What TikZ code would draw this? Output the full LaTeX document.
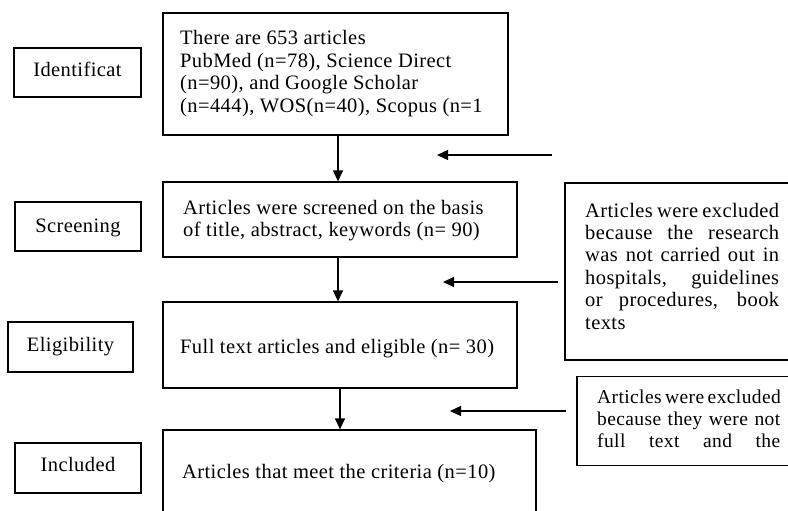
\documentclass[tikz,border=0pt]{standalone}
\usepackage{fontspec}
\setmainfont{Liberation Serif}[LetterSpace=2]
\usetikzlibrary{arrows.meta}
\begin{document}
\begin{tikzpicture}[x=1pt,y=-1pt,
  box/.style={draw=black, line width=1.3pt, rectangle, inner sep=0pt},
  arr/.style={line width=1.3pt, -{Triangle[length=11pt,width=10pt]}},
  txt/.style={inner sep=0pt, anchor=base west, font=\fontsize{20.5}{22.5}\selectfont},
  lab/.style={inner sep=0pt, anchor=base, font=\fontsize{20.5}{22.5}\selectfont},
  exa/.style={inner sep=0pt, anchor=base west, font=\fontsize{20.5}{22.4}\selectfont},
  exb/.style={inner sep=0pt, anchor=base west, font=\fontsize{19.5}{22}\selectfont},
  ]
\useasboundingbox (0,0) rectangle (788,511);
\clip (0,0) rectangle (788,511);

% stage label boxes
\node[box, minimum width=127pt, minimum height=49pt] (idb)  at (77.5,72.5) {};
\node[box, minimum width=126pt, minimum height=49pt] (scrb) at (78,226.5) {};
\node[box, minimum width=125pt, minimum height=50pt] (elib) at (70.5,347) {};
\node[box, minimum width=126pt, minimum height=50pt] (incb) at (78,468) {};
\node[lab] (idt)  at (77.5,76.5) {Identificat};
\node[lab] (scrt) at (78,232) {Screening};
\node[lab] (elit) at (70.5,351) {Eligibility};
\node[lab] (inct) at (78,471.5) {Included};

% main column boxes
\node[box, minimum width=345pt, minimum height=122pt] (top) at (335.5,74) {};
\node[box, minimum width=354pt, minimum height=75pt]  (scr) at (340,219.5) {};
\node[box, minimum width=354pt, minimum height=86pt]  (eli) at (340,345) {};
\node[box, minimum width=373pt, minimum height=110pt] (inc) at (349.5,485) {};

\node[txt] (topt) at (180,45) {\parbox[t]{320pt}{\raggedright There are 653 articles\\PubMed (n=78), Science Direct\\(n=90), and Google Scholar\\(n=444), WOS(n=40), Scopus (n=1}};
\node[txt] (scrtx) at (183,214) {\parbox[t]{330pt}{\raggedright Articles were screened on the basis\\of title, abstract, keywords (n= 90)}};
\node[txt] (elitx) at (180,353) {Full text articles and eligible (n= 30)};
\node[txt] (inctx) at (182,478) {Articles that meet the criteria (n=10)};

% exclusion boxes
\node[box, minimum width=245pt, minimum height=177pt] (ex1) at (687.5,271.5) {};
\node[box, minimum width=233pt, minimum height=89pt]  (ex2) at (693.5,421) {};
\node[exa] (ex1t) at (585,217) {\parbox[t]{194pt}{%
\makebox[194pt][s]{Articles were excluded}\\
\makebox[194pt][s]{because the research}\\
\makebox[194pt][s]{was not carried out in}\\
\makebox[194pt][s]{hospitals, guidelines}\\
\makebox[194pt][s]{or procedures, book}\\
texts}};
\node[exb] (ex2t) at (597,403) {\parbox[t]{183pt}{%
\makebox[183pt][s]{Articles were excluded}\\
\makebox[183pt][s]{because they were not}\\
\makebox[183pt][s]{full text and the}}};

% connectors
\coordinate (ax1) at (338,0);
\coordinate (ax2) at (340,0);
\draw[arr] (top.south -| ax1) -- (scr.north -| ax1);
\draw[arr] (scr.south -| ax1) -- (eli.north -| ax1);
\draw[arr] (eli.south -| ax2) -- (inc.north -| ax2);

\coordinate (h1s) at (552,155);
\coordinate (h1e) at (437,155);
\coordinate (h2s) at (558,282);
\coordinate (h2e) at (443,282);
\coordinate (h3s) at (566,411);
\coordinate (h3e) at (450,411);
\draw[arr] (h1s) -- (h1e);
\draw[arr] (h2s) -- (h2e);
\draw[arr] (h3s) -- (h3e);
\end{tikzpicture}
\end{document}
